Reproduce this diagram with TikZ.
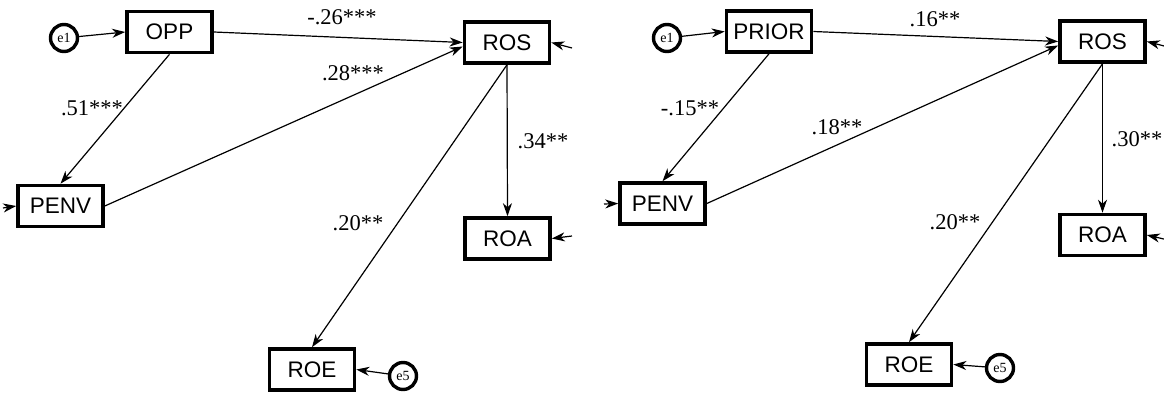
\documentclass[tikz,border=0pt]{standalone}
\usepackage{fontspec}
\setmainfont{Liberation Serif}
\setsansfont{Liberation Sans}
\usetikzlibrary{arrows.meta,calc}
\tikzset{
  box/.style={draw, line width=3.6pt, minimum width=85pt, minimum height=41pt, inner sep=0pt,
    font=\sffamily\fontsize{22.5}{22.5}\selectfont},
  err/.style={circle, draw, line width=3.4pt, minimum size=27pt, inner sep=0pt,
    font=\rmfamily\fontsize{14}{14}\selectfont},
  lbl/.style={font=\rmfamily\fontsize{22.5}{22.5}\selectfont, inner sep=0pt},
  arr/.style={-{Stealth[length=13pt,width=9pt,inset=4pt]}, line width=1.2pt}
}
\begin{document}
\begin{tikzpicture}[x=1pt,y=-1pt]
\useasboundingbox (0,0) rectangle (1164,394);
% ---------- left model ----------
\node[err] (e1a) at (64,38) {e1};
\node[box] (opp) at (169.5,32) {OPP};
\node[box] (penva) at (60.5,206) {PENV};
\node[box] (rosa) at (507,42.5) {ROS};
\node[box] (roaa) at (507.5,238.5) {ROA};
\node[box] (roea) at (312,369.5) {ROE};
\node[err] (e5a) at (403,376) {e5};
\coordinate (ina) at (3,208);
\coordinate (inrosa) at (572,48);
\coordinate (inroaa) at (572,236);

\draw[arr] (e1a) -- (opp.west);
\draw[arr] (opp.east) -- (rosa.west);
\draw[arr] (penva.east) -- ($(rosa.west)+(0,4)$);
\draw[arr] (opp.south) -- (penva.north);
\draw[arr] (rosa.south) -- (roaa.north);
\draw[arr] (rosa.south) -- (roea.north);
\draw[arr] (e5a) -- (roea.east);
\draw[arr] (ina) -- (penva.west);
\draw[arr] (inrosa) -- (rosa.east);
\draw[arr] (inroaa) -- (roaa.east);

\node[lbl] (l1) at (342,17) {-.26***};
\node[lbl] (l2) at (353,73) {.28***};
\node[lbl] (l3) at (92,108) {.51***};
\node[lbl] (l4) at (543,141) {.34**};
\node[lbl] (l5) at (358,223) {.20**};

% ---------- right model ----------
\node[err] (e1b) at (667,38) {e1};
\node[box] (prior) at (769,31.5) {PRIOR};
\node[box] (penvb) at (662.5,203.5) {PENV};
\node[box] (rosb) at (1102.5,41.5) {ROS};
\node[box] (roab) at (1102.5,235) {ROA};
\node[box] (roeb) at (909,364.5) {ROE};
\node[err] (e5b) at (1000,368) {e5};
\coordinate (inb) at (604,204);
\coordinate (inrosb) at (1168,47);
\coordinate (inroab) at (1168,240);

\draw[arr] (e1b) -- (prior.west);
\draw[arr] (prior.east) -- (rosb.west);
\draw[arr] (penvb.east) -- ($(rosb.west)+(0,4)$);
\draw[arr] (prior.south) -- (penvb.north);
\draw[arr] (rosb.south) -- (roab.north);
\draw[arr] (rosb.south) -- (roeb.north);
\draw[arr] (e5b) -- (roeb.east);
\draw[arr] (inb) -- (penvb.west);
\draw[arr] (inrosb) -- (rosb.east);
\draw[arr] (inroab) -- (roab.east);

\node[lbl] (r1) at (935,19) {.16**};
\node[lbl] (r2) at (690,108) {-.15**};
\node[lbl] (r3) at (837,127) {.18**};
\node[lbl] (r4) at (1137,139) {.30**};
\node[lbl] (r5) at (955,222) {.20**};
\end{tikzpicture}
\end{document}
